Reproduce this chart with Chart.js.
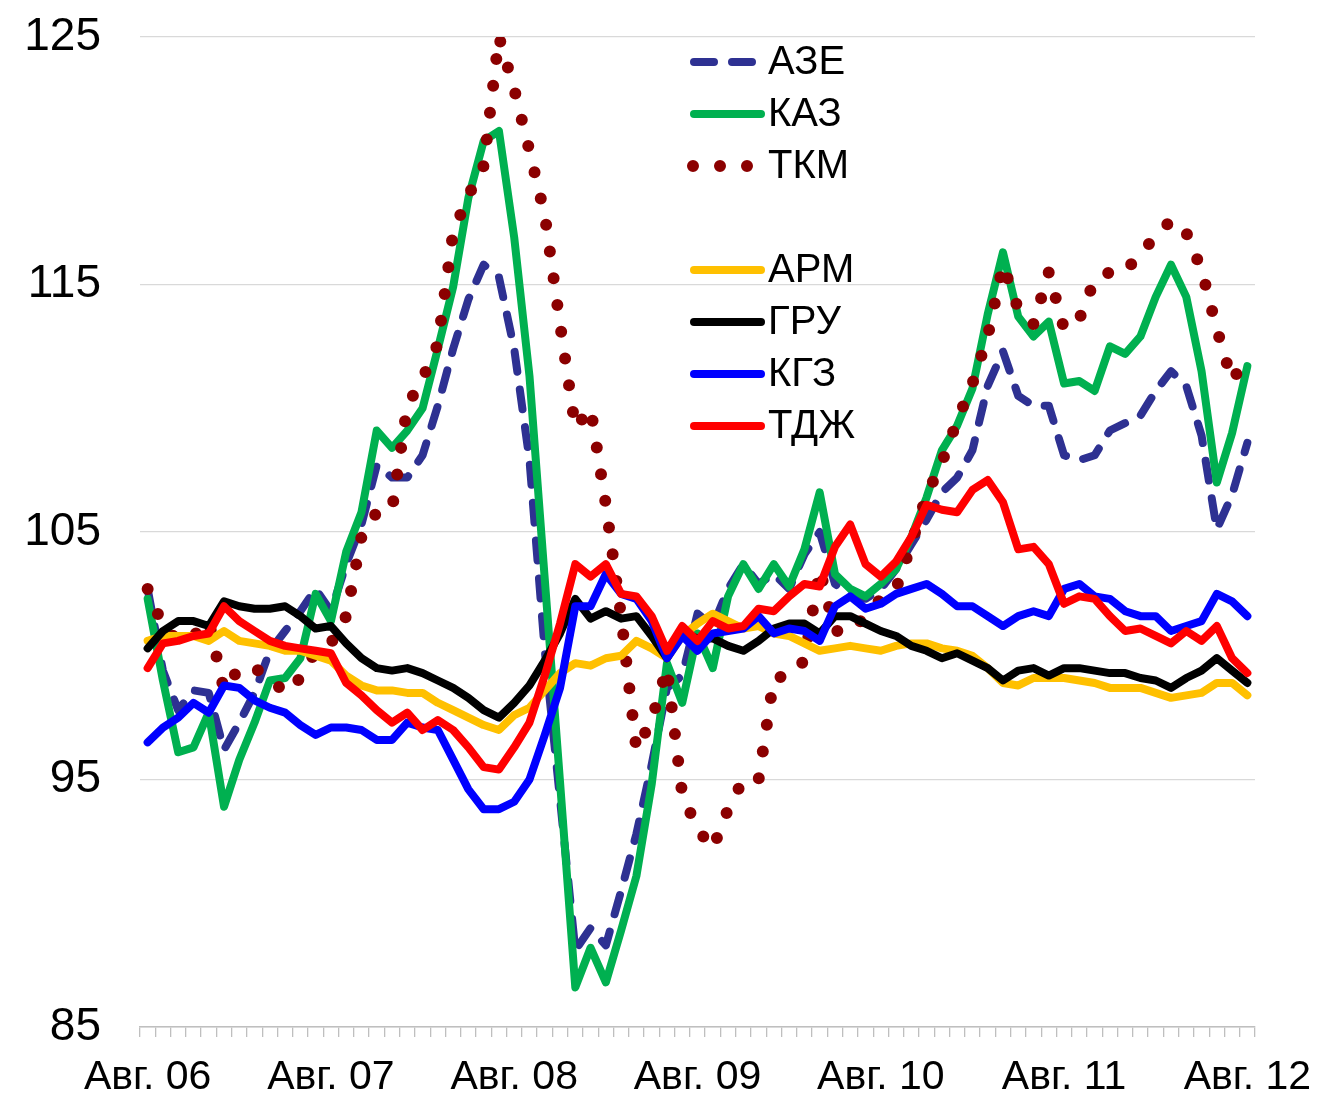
<!DOCTYPE html>
<html>
<head>
<meta charset="utf-8">
<script src="https://cdn.jsdelivr.net/npm/chart.js@4.4.1/dist/chart.umd.min.js"></script>
<style>
  body { margin: 0; background: #fff; }
</style>
</head>
<body>
<canvas id="indexChart" width="1323" height="1099"></canvas>
<script>
// ===== ДАННЫЕ =====
const monthNames = ['Янв.', 'Фев.', 'Мар.', 'Апр.', 'Май', 'Июн.', 'Июл.', 'Авг.', 'Сен.', 'Окт.', 'Ноя.', 'Дек.'];
const firstMonth = 7;   // август
const firstYear = 6;    // 2006
const monthCount = 73;  // авг. 06 - авг. 12

const aze = [102.7, 99.4, 97.8, 98.6, 98.5, 96.2, 97.3, 98.5, 100.2, 101.0,
    101.8, 102.7, 101.8, 103.7, 105.3, 107.7, 107.2, 107.2, 108.1, 110.1,
    112.4, 114.4, 115.8, 115.3, 112.4, 107.9, 100.2, 94.2, 88.1, 89.0,
    88.3, 90.5, 92.8, 95.6, 98.7, 99.2, 101.7, 101.2, 102.7, 103.7,
    102.9, 103.3, 102.7, 104.1, 105.0, 102.9, 102.5, 102.3, 102.7, 103.5,
    104.5, 105.5, 106.6, 107.2, 108.3, 110.9, 112.3, 110.5, 110.1, 110.1,
    108.1, 107.9, 108.1, 109.1, 109.4, 109.7, 110.7, 111.5, 110.9, 108.9,
    105.1, 106.5, 108.6];

const kaz = [102.3, 99.0, 96.1, 96.3, 97.7, 93.9, 95.8, 97.3, 99.0, 99.1,
    99.9, 102.5, 101.4, 104.2, 105.8, 109.1, 108.4, 109.1, 110.0, 112.4,
    114.9, 118.5, 120.8, 121.2, 116.9, 111.3, 103.1, 94.9, 86.6, 88.2,
    86.8, 88.9, 91.1, 94.8, 99.7, 98.1, 100.9, 99.5, 102.4, 103.7,
    102.7, 103.7, 102.8, 104.3, 106.6, 103.3, 102.7, 102.4, 102.9, 103.5,
    104.8, 106.4, 108.3, 109.3, 110.8, 113.8, 116.3, 113.7, 112.9, 113.5,
    111.0, 111.1, 110.7, 112.5, 112.2, 112.9, 114.5, 115.8, 114.5, 111.5,
    107.0, 109.0, 111.7];

const tkm = [102.7, 101.2, 100.6, 100.8, 101.4, 98.6, 99.5, 99.5, 99.1, 98.5,
    99.1, 100.2, 100.5, 101.6, 104.8, 105.8, 105.9, 110.1, 111.2, 112.6,
    117.1, 118.6, 119.8, 125.0, 122.9, 120.4, 117.8, 113.4, 109.2, 110.0,
    106.1, 101.6, 96.2, 97.4, 99.5, 94.4, 93.0, 92.2, 93.8, 95.0,
    95.0, 99.1, 99.2, 99.8, 103.5, 101.0, 101.0, 101.6, 102.3, 102.7,
    104.5, 106.5, 107.8, 109.5, 111.0, 112.9, 115.8, 114.0, 113.4, 115.5,
    113.2, 113.6, 115.2, 115.5, 115.5, 116.3, 116.9, 117.6, 117.1, 115.6,
    113.2, 111.1, 112.1];

const arm = [100.6, 100.8, 100.8, 100.8, 100.6, 101.0, 100.6, 100.5, 100.4, 100.2,
    100.2, 100.0, 99.8, 99.2, 98.8, 98.6, 98.6, 98.5, 98.5, 98.1,
    97.8, 97.5, 97.2, 97.0, 97.6, 97.9, 98.6, 99.3, 99.7, 99.6,
    99.9, 100.0, 100.6, 100.3, 99.9, 100.8, 101.3, 101.7, 101.4, 101.1,
    101.2, 100.9, 100.8, 100.5, 100.2, 100.3, 100.4, 100.3, 100.2, 100.4,
    100.5, 100.5, 100.3, 100.2, 100.0, 99.5, 98.9, 98.8, 99.1, 99.1,
    99.1, 99.0, 98.9, 98.7, 98.7, 98.7, 98.5, 98.3, 98.4, 98.5,
    98.9, 98.9, 98.4];

const gru = [100.3, 101.0, 101.4, 101.4, 101.2, 102.2, 102.0, 101.9, 101.9, 102.0,
    101.6, 101.1, 101.2, 100.5, 99.9, 99.5, 99.4, 99.5, 99.3, 99.0,
    98.7, 98.3, 97.8, 97.5, 98.1, 98.8, 99.8, 100.9, 102.3, 101.5,
    101.8, 101.5, 101.6, 100.8, 99.9, 100.9, 100.7, 100.7, 100.4, 100.2,
    100.6, 101.1, 101.3, 101.3, 100.9, 101.6, 101.6, 101.3, 101.0, 100.8,
    100.4, 100.2, 99.9, 100.1, 99.8, 99.5, 99.0, 99.4, 99.5, 99.2,
    99.5, 99.5, 99.4, 99.3, 99.3, 99.1, 99.0, 98.7, 99.1, 99.4,
    99.9, 99.4, 98.9];

const kgz = [96.5, 97.1, 97.5, 98.1, 97.7, 98.8, 98.7, 98.2, 97.9, 97.7,
    97.2, 96.8, 97.1, 97.1, 97.0, 96.6, 96.6, 97.3, 97.1, 97.0,
    95.8, 94.6, 93.8, 93.8, 94.1, 95.0, 96.8, 98.7, 102.0, 102.0,
    103.3, 102.5, 102.3, 101.4, 99.9, 100.8, 100.2, 100.9, 101.0, 101.1,
    101.6, 100.9, 101.1, 101.0, 100.6, 102.0, 102.4, 101.9, 102.1, 102.5,
    102.7, 102.9, 102.5, 102.0, 102.0, 101.6, 101.2, 101.6, 101.8, 101.6,
    102.7, 102.9, 102.4, 102.3, 101.8, 101.6, 101.6, 101.0, 101.2, 101.4,
    102.5, 102.2, 101.6];

const tdj = [99.5, 100.5, 100.6, 100.8, 100.9, 102.0, 101.4, 101.0, 100.6, 100.4,
    100.3, 100.2, 100.1, 98.9, 98.4, 97.8, 97.3, 97.7, 97.0, 97.4,
    97.0, 96.3, 95.5, 95.4, 96.3, 97.3, 99.2, 101.3, 103.7, 103.2,
    103.7, 102.5, 102.4, 101.6, 100.2, 101.2, 100.6, 101.4, 101.1, 101.2,
    101.9, 101.8, 102.4, 102.9, 102.8, 104.4, 105.3, 103.7, 103.2, 103.8,
    104.8, 106.1, 105.9, 105.8, 106.7, 107.1, 106.2, 104.3, 104.4, 103.7,
    102.1, 102.4, 102.3, 101.6, 101.0, 101.1, 100.8, 100.5, 101.0, 100.6,
    101.2, 99.9, 99.3];

// подписи месяцев: "Авг. 06" ...
const labels = [];
for (let i = 0; i < monthCount; i++) {
    const m = (firstMonth + i) % 12;
    const y = firstYear + Math.floor((firstMonth + i) / 12);
    labels.push(monthNames[m] + ' ' + String(y).padStart(2, '0'));
}

const FONT = '"Liberation Sans", Arial, sans-serif';

// ===== ЛЕГЕНДА ВНУТРИ ГРАФИКА =====
const insideLegend = {
    id: 'insideLegend',
    afterDraw(chart) {
        const ctx = chart.ctx;
        chart.data.datasets.forEach((ds, i) => {
            const y = 62 + 52 * (i + (i >= 3 ? 1 : 0));
            ctx.save();
            ctx.strokeStyle = ds.borderColor;
            ctx.lineWidth = ds.borderWidth;
            ctx.lineCap = 'round';
            ctx.setLineDash(ds.borderDash || []);
            ctx.beginPath();
            if (ds.borderDash && ds.borderDash[0] === 0) {
                ctx.moveTo(693, y);
                ctx.lineTo(750, y);
            } else if (ds.borderDash) {
                ctx.moveTo(694, y);
                ctx.lineTo(756, y);
            } else {
                ctx.moveTo(694, y);
                ctx.lineTo(761, y);
            }
            ctx.stroke();
            ctx.restore();

            ctx.save();
            ctx.fillStyle = '#000';
            ctx.font = '40px ' + FONT;
            ctx.textBaseline = 'middle';
            ctx.textAlign = 'left';
            ctx.fillText(ds.label, 768, y + 1);
            ctx.restore();
        });
    }
};

const line = (label, data, color, order, extra) => Object.assign({
    label: label,
    data: data,
    borderColor: color,
    backgroundColor: color,
    borderWidth: 8,
    borderCapStyle: 'round',
    borderJoinStyle: 'round',
    pointRadius: 0,
    tension: 0,
    fill: false,
    order: order
}, extra || {});

new Chart(document.getElementById('indexChart'), {
    type: 'line',
    data: {
        labels: labels,
        datasets: [
            line('АЗЕ', aze, '#2E3192', 7, { borderDash: [20, 18] }),
            line('КАЗ', kaz, '#00B050', 6),
            line('ТКМ', tkm, '#8B0000', 5, { borderDash: [0, 27], borderWidth: 12 }),
            line('АРМ', arm, '#FFC000', 4),
            line('ГРУ', gru, '#000000', 3),
            line('КГЗ', kgz, '#0000FF', 2),
            line('ТДЖ', tdj, '#FF0000', 1)
        ]
    },
    options: {
        responsive: false,
        animation: false,
        devicePixelRatio: 1,
        layout: { padding: { top: 37, right: 68, bottom: 0, left: 0 } },
        plugins: {
            legend: { display: false },
            tooltip: { enabled: false }
        },
        scales: {
            x: {
                offset: true,
                grid: {
                    offset: true,
                    drawOnChartArea: false,
                    drawTicks: true,
                    tickLength: 10,
                    color: '#BFBFBF',
                    lineWidth: 1.3
                },
                border: { display: true, color: '#BFBFBF', width: 1.5 },
                ticks: {
                    autoSkip: false,
                    maxRotation: 0,
                    minRotation: 0,
                    padding: 16,
                    color: '#000',
                    font: { family: FONT, size: 41 },
                    callback: function (value) {
                        const lab = this.getLabelForValue(value);
                        return lab.indexOf('Авг.') === 0 ? lab : '';
                    }
                },
                afterFit: (scale) => {
                    scale.height = 72;
                    scale.paddingLeft = 0;
                    scale.paddingRight = 0;
                }
            },
            y: {
                min: 85,
                max: 125,
                grid: { color: '#D9D9D9', lineWidth: 1.3, drawTicks: false },
                border: { display: false },
                ticks: {
                    stepSize: 10,
                    padding: 39,
                    color: '#000',
                    font: { family: FONT, size: 46 }
                },
                afterFit: (scale) => {
                    scale.width = 140;
                    scale.paddingTop = 0;
                    scale.paddingBottom = 0;
                }
            }
        }
    },
    plugins: [insideLegend]
});
</script>
</body>
</html>
